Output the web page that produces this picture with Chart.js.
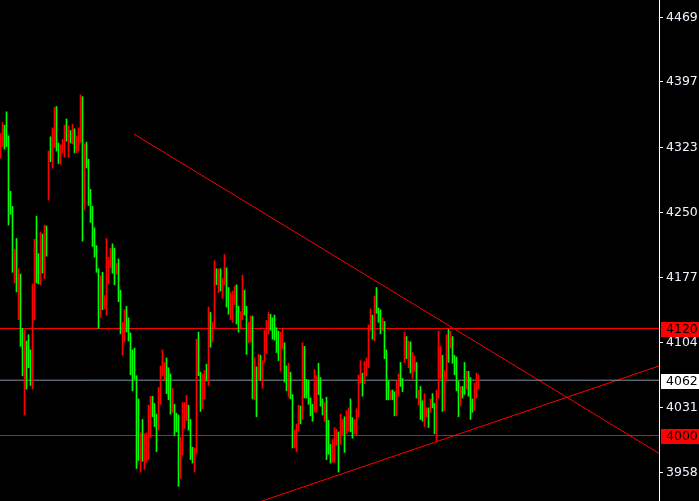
<!DOCTYPE html>
<html>
<head>
<meta charset="utf-8">
<script src="https://cdn.jsdelivr.net/npm/chart.js@4"></script>
<style>
  html, body { margin: 0; padding: 0; background: #000; }
  #wrap { width: 699px; height: 501px; }
</style>
</head>
<body>
<div id="wrap"><canvas id="myChart"></canvas></div>
<script>
// bar highs / lows, one bar per period
const highs = [
  4339,4351,4348,4363,4336,4274,4257,4209,4221,4187, 4181,4120,4118,4106,4113,4096,4170,4220,4246,4204,
  4228,4226,4236,4235,4319,4335,4345,4368,4369,4328, 4326,4332,4348,4355,4347,4342,4349,4344,4336,4345,
  4382,4380,4327,4329,4310,4276,4257,4233,4213,4187, 4179,4183,4157,4221,4200,4210,4215,4210,4193,4198,
  4163,4127,4141,4145,4132,4115,4096,4098,4067,4041, 4003,4018,4002,4003,4034,4044,4044,4036,4024,4054,
  4078,4096,4082,4087,4076,4069,4053,4035,4025,4023, 3998,4037,4037,4045,4034,4018,3987,3986,4108,4116,
  4071,4069,4073,4080,4144,4138,4127,4196,4187,4187, 4187,4176,4203,4188,4166,4160,4162,4167,4169,4145,
  4139,4180,4163,4145,4127,4134,4134,4087,4077,4091, 4090,4084,4118,4129,4138,4136,4132,4135,4121,4117,
  4116,4119,4104,4078,4081,4071,4046,4006,4013,4034, 4033,4104,4100,4063,4062,4042,4035,4074,4067,4081,
  4065,4041,4037,4043,4017,3990,3996,4009,4007,4004, 4024,4018,4021,4028,4031,4041,4020,4018,4030,4068,
  4084,4070,4083,4087,4124,4142,4135,4156,4166,4143, 4141,4132,4128,4096,4062,4051,4051,4049,4061,4069,
  4082,4064,4116,4111,4106,4105,4093,4089,4082,4051, 4055,4039,4047,4031,4031,4041,4047,4036,4051,4117,
  4100,4090,4073,4113,4119,4117,4111,4090,4088,4061, 4055,4055,4082,4072,4072,4065,4041,4059,4070,4068
];
const lows = [
  4311,4324,4321,4324,4236,4248,4183,4171,4161,4130, 4100,4067,4023,4052,4076,4056,4052,4130,4171,4170,
  4169,4182,4176,4201,4264,4307,4300,4323,4319,4305, 4304,4317,4312,4330,4312,4328,4327,4317,4317,4319,
  4329,4218,4253,4300,4258,4239,4212,4200,4183,4120, 4132,4141,4142,4135,4170,4188,4182,4169,4181,4150,
  4114,4090,4105,4116,4106,4068,4050,4063,3963,3972, 3959,3971,3962,3970,3973,3998,4021,4010,3982,4006,
  4035,4067,4062,4047,4040,4024,4026,4000,4004,3943, 3952,3978,4008,4017,4006,3973,3969,3959,3980,4067,
  4027,4030,4041,4061,4056,4099,4105,4121,4169,4160, 4162,4154,4169,4144,4136,4130,4127,4147,4125,4116,
  4119,4130,4135,4091,4104,4105,4041,4040,4021,4062, 4062,4053,4082,4092,4114,4118,4108,4107,4093,4084,
  4072,4097,4060,4050,4043,4041,3986,3986,3982,4005, 4013,4018,4042,4042,4035,4022,4016,4026,4026,4046,
  4033,4023,4016,3973,3979,3969,3970,3970,3989,3959, 3990,4000,3981,4002,4005,4004,3997,4002,4000,4021,
  4059,4044,4058,4067,4076,4118,4108,4106,4137,4127, 4114,4118,4086,4040,4040,4040,4040,4022,4022,4044,
  4055,4049,4082,4086,4076,4070,4064,4072,4042,4034, 4018,4016,4010,4021,4009,4026,4031,4002,3994,4042,
  4064,4027,4028,4062,4082,4098,4081,4068,4050,4021, 4033,4042,4046,4052,4044,4018,4026,4028,4042,4052
];
// 1 = up bar (green), 0 = down bar (red)
const up = [
  0,0,1,1,1,1,1,0,1,0, 1,1,0,1,1,1,0,0,1,1, 0,1,0,1,0,1,0,0,1,1, 0,0,0,1,0,1,0,1,0,0,
  0,1,0,1,1,1,1,1,1,1, 0,1,0,0,0,0,1,1,0,1, 1,0,0,1,1,1,1,1,1,1, 0,1,0,0,0,0,1,1,1,0,
  0,0,0,1,1,1,0,1,1,1, 0,0,0,0,1,1,1,0,0,1, 1,0,0,1,0,1,0,0,1,0, 1,0,0,1,1,0,0,0,1,1,
  0,0,1,1,0,0,1,0,1,0, 1,0,0,0,0,1,1,1,1,1, 0,0,1,1,0,1,1,0,0,0, 1,0,1,1,1,1,1,0,0,1,
  1,1,0,1,1,1,0,0,0,1, 0,0,1,0,0,1,1,0,0,0, 0,1,0,0,0,0,1,0,1,1, 1,0,1,1,1,0,1,1,0,0,
  1,1,0,1,0,1,0,0,1,0, 1,1,0,0,1,0,1,1,0,0, 0,1,0,0,1,0,1,1,1,1, 0,1,1,0,1,1,1,0,0,0
];

const tickVals = [4469, 4397, 4323, 4250, 4177, 4104, 4031, 3958];
const levels = [4120, 4062, 4000];
const levelBg = ['#ff0000', '#ffffff', '#ff0000'];
const levelLine = ['#ff0000', '#8391a2', '#ff0000'];

// trend lines: [start index, start price, end index, end price]
const trendDown = [66.75, 4338, 329.25, 3980];
const trendUp = [128.75, 3925, 329.25, 4078];

const bars = highs.map((h, i) => ({ x: i, y: [lows[i], h] }));

const hLine = (v, c) => ({
  type: 'line',
  data: [{ x: -1, y: v }, { x: 340, y: v }],
  borderColor: c, borderWidth: 1, pointRadius: 0, order: 2
});
const tLine = (t) => ({
  type: 'line',
  data: [{ x: t[0], y: t[1] }, { x: t[2], y: t[3] }],
  borderColor: '#ff0000', borderWidth: 1, pointRadius: 0, order: 2
});

const boxLabels = {
  id: 'boxLabels',
  afterDraw(chart) {
    const ctx = chart.ctx;
    const ys = chart.scales.y;
    ctx.save();
    ctx.font = '12.5px "DejaVu Sans"';
    ctx.textBaseline = 'middle';
    ctx.textAlign = 'left';
    levels.forEach((v, k) => {
      const py = Math.round(ys.getPixelForValue(v));
      ctx.fillStyle = levelBg[k];
      ctx.fillRect(661, py - 6, 38, 15);
      ctx.fillStyle = '#000';
      ctx.fillText(String(v), 666, py + 2);
    });
    ctx.restore();
  }
};

const config = {
  type: 'bar',
  data: {
    datasets: [
      {
        data: bars,
        backgroundColor: up.map(u => u ? '#00ff00' : '#ff0000'),
        borderWidth: 0,
        barThickness: 1,
        order: 1
      },
      hLine(levels[0], levelLine[0]),
      hLine(levels[1], levelLine[1]),
      hLine(levels[2], levelLine[2]),
      tLine(trendDown),
      tLine(trendUp)
    ]
  },
  options: {
    responsive: true,
    maintainAspectRatio: false,
    animation: false,
    layout: { padding: 0 },
    plugins: { legend: { display: false }, tooltip: { enabled: false } },
    scales: {
      x: {
        type: 'linear',
        display: false,
        offset: false,
        min: -0.25,
        max: 329.25
      },
      y: {
        position: 'right',
        min: 3926.54,
        max: 4488.41,
        afterBuildTicks: (s) => { s.ticks = tickVals.map(v => ({ value: v })); },
        afterFit: (s) => {
          s.width = 40;
          s.paddingTop = 0;
          s.paddingBottom = 0;
        },
        grid: { drawOnChartArea: false, color: '#ffffff', tickLength: 4 },
        border: { color: '#ffffff' },
        ticks: {
          color: '#eef3ff',
          padding: 3,
          font: { family: 'DejaVu Sans', size: 12.5 },
          callback: (v) => v
        }
      }
    }
  },
  plugins: [boxLabels]
};

const myChart = new Chart(document.getElementById('myChart'), config);
</script>
</body>
</html>
